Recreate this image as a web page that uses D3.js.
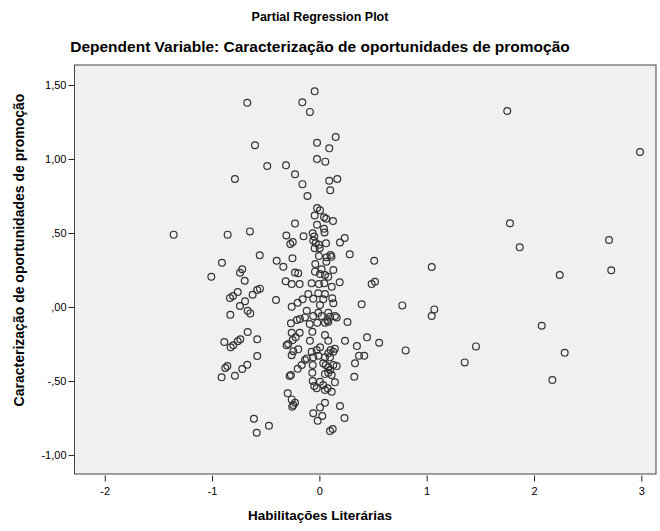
<!DOCTYPE html>
<html>
<head>
<meta charset="utf-8">
<script src="https://cdn.jsdelivr.net/npm/d3@7"></script>
<style>
  body { margin: 0; background: #fff; }
  .vis { width: 660px; height: 531px; }
  text { font-family: "Liberation Sans", Arial, sans-serif; fill: #000; }
</style>
</head>
<body>
<div class="vis"></div>
<script>
(function() {
  'use strict';

  var chartTitle = 'Partial Regression Plot',
    chartSubtitle = 'Dependent Variable: Caracterização de oportunidades de promoção',
    xTitle = 'Habilitações Literárias',
    yTitle = 'Caracterização de oportunidades de promoção';

  var xTicks = [-2, -1, 0, 1, 2, 3],
    xTickLabels = ['-2', '-1', '0', '1', '2', '3'],
    yTicks = [-1, -0.5, 0, 0.5, 1, 1.5],
    yTickLabels = ['-1,00', '-,50', ',00', ',50', '1,00', '1,50'];

  var xDomain = [-2.282, 3.137],
    yDomain = [-1.128, 1.635];

  // [Habilitações Literárias | others, Caracterização | others]
  var residuals = [
    [-0.672, 1.380], [-0.600, 1.093], [-0.486, 0.953], [-0.787, 0.865], [-1.358, 0.489],
    [-0.855, 0.489], [-0.647, 0.511], [-0.556, 0.349], [-0.908, 0.299], [-0.719, 0.255],
    [-1.007, 0.205], [-0.740, 0.232], [-0.696, 0.178], [-0.761, 0.101], [-0.833, 0.061],
    [-0.805, 0.074], [-0.622, 0.083], [-0.579, 0.115], [-0.554, 0.124], [-0.693, 0.039],
    [-0.740, 0.007], [-0.668, -0.025], [-0.644, -0.043], [-0.830, -0.052], [-0.668, -0.169],
    [-0.886, -0.236], [-0.579, -0.218], [-0.827, -0.272], [-0.802, -0.259], [-0.761, -0.232],
    [-0.737, -0.218], [-0.579, -0.331], [-0.877, -0.412], [-0.858, -0.399], [-0.672, -0.390],
    [-0.719, -0.419], [-0.911, -0.475], [-0.787, -0.464], [-0.610, -0.755], [-0.584, -0.849],
    [-0.470, -0.802],

    [-0.044, 1.457], [-0.159, 1.383], [-0.088, 1.318], [0.152, 1.149], [-0.022, 1.110],
    [0.092, 1.072], [-0.022, 1.000], [0.055, 0.982], [-0.311, 0.957], [-0.227, 0.897],
    [-0.158, 0.830], [0.092, 0.853], [0.167, 0.865], [0.101, 0.789], [-0.111, 0.750],
    [-0.021, 0.669], [0.006, 0.653], [-0.044, 0.618], [0.043, 0.606], [0.063, 0.596],
    [0.127, 0.581], [-0.227, 0.564], [-0.022, 0.556], [0.043, 0.529], [-0.308, 0.483],
    [-0.148, 0.478], [-0.062, 0.498], [-0.048, 0.476], [0.048, 0.503], [0.236, 0.466],
    [0.192, 0.436], [-0.271, 0.426], [-0.248, 0.439], [-0.057, 0.449], [-0.034, 0.432],
    [-0.004, 0.421], [0.062, 0.430], [-0.044, 0.397], [0.003, 0.397], [0.283, 0.357],
    [0.511, 0.312], [-0.398, 0.312], [-0.251, 0.329], [-0.004, 0.345], [0.068, 0.336],
    [0.103, 0.351], [0.113, 0.339], [-0.038, 0.291], [0.065, 0.306], [-0.336, 0.272],
    [0.021, 0.255], [0.130, 0.250], [-0.041, 0.239], [-0.227, 0.233], [-0.197, 0.228],

    [0.006, 0.223], [0.052, 0.216], [0.083, 0.205], [-0.314, 0.174], [-0.258, 0.155],
    [-0.184, 0.155], [-0.072, 0.160], [-0.004, 0.155], [0.046, 0.160], [0.115, 0.137],
    [0.189, 0.167], [0.487, 0.155], [0.518, 0.171], [-0.404, 0.047], [-0.258, 0.002],
    [-0.202, 0.029], [-0.156, 0.052], [-0.103, 0.088], [-0.057, 0.056], [0.006, 0.014],
    [0.036, 0.052], [0.052, 0.088], [-0.010, 0.093], [0.120, 0.059], [0.130, 0.025],
    [0.394, 0.018], [-0.118, -0.025], [-0.057, -0.061], [-0.010, -0.039], [0.021, -0.061],
    [0.083, -0.039], [0.099, -0.066], [0.074, -0.088], [0.145, -0.061], [0.161, -0.070],
    [-0.181, -0.081], [-0.134, -0.070], [-0.209, -0.088], [-0.090, -0.115], [-0.020, -0.106],
    [0.052, -0.106], [0.083, -0.099], [-0.265, -0.110], [0.262, -0.101], [-0.066, -0.167],
    [-0.184, -0.174], [-0.258, -0.174], [0.052, -0.189], [-0.249, -0.223], [-0.221, -0.205],
    [-0.290, -0.250], [-0.305, -0.259], [-0.088, -0.228], [0.083, -0.228], [0.239, -0.228],
    [0.444, -0.205], [0.557, -0.241], [0.350, -0.264], [-0.197, -0.286], [-0.243, -0.299],
    [-0.258, -0.326], [-0.072, -0.302], [-0.025, -0.291], [0.006, -0.272], [0.105, -0.291],
    [0.130, -0.302], [0.145, -0.282], [-0.057, -0.340], [-0.010, -0.329], [0.052, -0.340],
    [0.083, -0.313], [0.099, -0.340], [0.369, -0.329], [0.418, -0.329], [-0.134, -0.358],
    [-0.118, -0.347], [0.332, -0.380],

    [-0.265, -0.459], [-0.277, -0.466], [-0.202, -0.417], [-0.165, -0.392], [-0.062, -0.392],
    [-0.066, -0.444], [0.036, -0.380], [0.059, -0.392], [0.083, -0.407], [0.130, -0.392],
    [0.161, -0.399], [0.052, -0.453], [0.083, -0.444], [0.115, -0.459], [0.099, -0.426],
    [0.325, -0.471], [-0.062, -0.500], [-0.048, -0.534], [-0.025, -0.549], [0.006, -0.505],
    [0.036, -0.527], [0.052, -0.561], [0.077, -0.549], [0.115, -0.572], [0.145, -0.509],
    [-0.295, -0.583], [-0.258, -0.624], [-0.243, -0.662], [-0.227, -0.647], [-0.253, -0.674],
    [0.006, -0.678], [0.052, -0.647], [0.192, -0.669], [-0.057, -0.718], [0.027, -0.736],
    [-0.016, -0.768], [0.234, -0.750], [0.099, -0.838], [0.124, -0.824],

    [0.773, 0.011], [1.047, 0.270], [1.071, -0.016], [1.047, -0.061], [0.804, -0.293],
    [1.459, -0.266], [1.354, -0.374], [1.751, 1.324], [2.988, 1.047], [1.776, 0.566],
    [1.867, 0.403], [2.699, 0.453], [2.240, 0.216], [2.720, 0.248], [2.072, -0.126],
    [2.286, -0.309], [2.171, -0.493]
  ];

  var el = d3.select('.vis'),
    elWidth = 660,
    elHeight = 531,
    margin = {top: 65, right: 4, bottom: 57, left: 74.5},
    width = elWidth - margin.left - margin.right,
    height = elHeight - margin.top - margin.bottom;

  var root = el.append('svg')
      .attr('width', elWidth)
      .attr('height', elHeight)
      .style('background', '#fff');

  var svg = root.append('g')
      .attr('transform', 'translate(' + margin.left + ',' + margin.top + ')');

  var x = d3.scaleLinear().domain(xDomain).range([0, width]),
    y = d3.scaleLinear().domain(yDomain).range([height, 0]);

  // titles
  root.append('text')
      .attr('x', 320)
      .attr('y', 21)
      .attr('text-anchor', 'middle')
      .style('font-size', '12.5px')
      .style('font-weight', 'bold')
      .text(chartTitle);

  root.append('text')
      .attr('x', 320)
      .attr('y', 52)
      .attr('text-anchor', 'middle')
      .style('font-size', '15.5px')
      .style('font-weight', 'bold')
      .text(chartSubtitle);

  // plot frame
  svg.append('rect')
      .attr('width', width)
      .attr('height', height)
      .attr('fill', '#f0f0f0')
      .attr('stroke', '#444')
      .attr('stroke-width', 1);

  var yAxis = svg.append('g')
      .call(d3.axisLeft(y)
        .tickValues(yTicks)
        .tickFormat(function(d, i) { return yTickLabels[i]; })
        .tickSize(6)
        .tickPadding(2));

  var xAxis = svg.append('g')
      .attr('transform', 'translate(0,' + (height + 1.5) + ')')
      .call(d3.axisBottom(x)
        .tickValues(xTicks)
        .tickFormat(function(d, i) { return xTickLabels[i]; })
        .tickSize(6)
        .tickPadding(6));

  [xAxis, yAxis].forEach(function(a) {
    a.select('.domain').remove();
    a.selectAll('line').attr('stroke', '#222');
    a.selectAll('text')
        .style('font-size', '11px')
        .style('font-family', '"Liberation Sans", Arial, sans-serif')
        .attr('fill', '#000');
  });

  // axis titles
  root.append('text')
      .attr('x', 320)
      .attr('y', 520)
      .attr('text-anchor', 'middle')
      .style('font-size', '13.5px')
      .style('font-weight', 'bold')
      .text(xTitle);

  root.append('text')
      .attr('transform', 'translate(24,' + 250 + ') rotate(-90)')
      .attr('text-anchor', 'middle')
      .style('font-size', '14px')
      .style('font-weight', 'bold')
      .text(yTitle);

  svg.selectAll('.point')
      .data(residuals)
    .enter()
    .append('circle')
      .attr('class', 'point')
      .attr('cx', function(d) { return x(d[0]); })
      .attr('cy', function(d) { return y(d[1]); })
      .attr('r', 3.4)
      .attr('fill', 'none')
      .attr('stroke', '#333')
      .attr('stroke-width', 1.2);
}());
</script>
</body>
</html>
